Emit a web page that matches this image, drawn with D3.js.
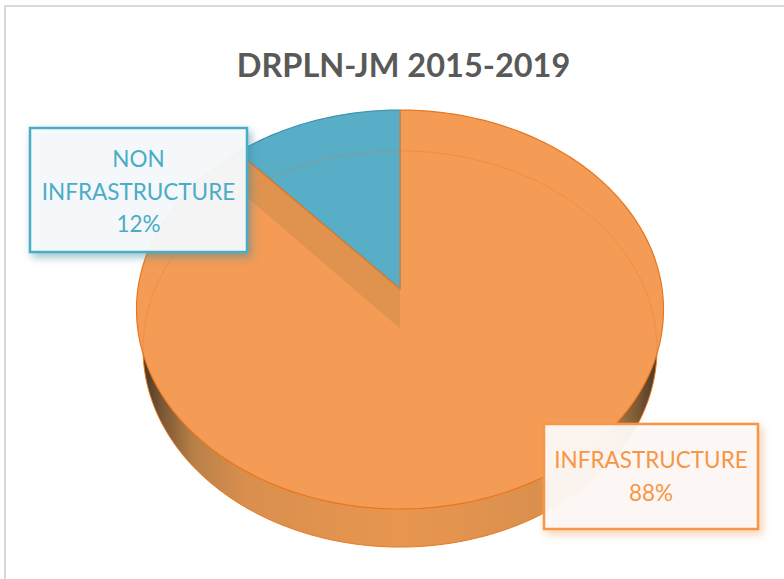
<!DOCTYPE html>
<html>
<head>
<meta charset="utf-8">
<title>DRPLN-JM 2015-2019</title>
<script src="https://cdnjs.cloudflare.com/ajax/libs/d3/7.8.5/d3.min.js"></script>
<style>
    html, body { margin: 0; padding: 0; background: #fff; }
    svg { display: block; }
</style>
</head>
<body>
<div id="chart"></div>
<script>
// data
var chartTitle = "DRPLN-JM 2015-2019";
var categories = ["INFRASTRUCTURE", "NON INFRASTRUCTURE"];
var shares = [88.4, 11.6];
var percentLabels = ["88%", "12%"];
var sliceColors = ["#f49b55", "#58adc7"];
var labelColors = ["#f79646", "#4bacc6"];

var width = 784, height = 579;

var svg = d3.select("#chart").append("svg")
    .attr("width", width)
    .attr("height", height);

var defs = svg.append("defs");

// side wall shading, dark at both ends
var wall = defs.append("linearGradient")
    .attr("id", "wallFill")
    .attr("gradientUnits", "userSpaceOnUse")
    .attr("x1", 143).attr("x2", 657).attr("y1", 0).attr("y2", 0);
[[0, "#4a3724"], [0.04, "#7d5a36"], [0.1, "#b98147"], [0.2, "#d98f4e"], [0.5, "#e8964f"],
 [0.8, "#d98f4e"], [0.9, "#b98147"], [0.96, "#7d5a36"], [1, "#4a3724"]].forEach(function(s) {
    wall.append("stop").attr("offset", s[0]).attr("stop-color", s[1]);
});

function addShadow(id, color) {
    var f = defs.append("filter").attr("id", id)
        .attr("x", "-10%").attr("y", "-15%").attr("width", "125%").attr("height", "140%");
    f.append("feDropShadow")
        .attr("dx", 3).attr("dy", 4).attr("stdDeviation", 4)
        .attr("flood-color", color).attr("flood-opacity", 0.55);
}
addShadow("shadowOrange", "#f0a56a");
addShadow("shadowBlue", "#3f8ba3");

svg.append("rect")
    .attr("x", 5).attr("y", 6)
    .attr("width", width + 10).attr("height", height + 10)
    .attr("fill", "#fff")
    .attr("stroke", "#d9d9d9")
    .attr("stroke-width", 2);

svg.append("text")
    .attr("x", 403.5).attr("y", 77)
    .attr("text-anchor", "middle")
    .attr("font-family", "Lato, 'Open Sans', sans-serif")
    .attr("font-weight", 700)
    .attr("font-size", 32.5)
    .attr("fill", "#595959")
    .text(chartTitle);

// the pie lies in perspective: far edge is squeezed, centre sits above the ellipse middle
var k = -0.1028;
var topDisc = {x: 400, y: 289, a: 262.1, b: 197.4};
var bottomDisc = {x: 400, y: 328.6, a: 255.6, b: 196};

function project(disc, angle) {
    var u = Math.sin(angle), v = -Math.cos(angle);
    var w = 1 + k * v;
    return [disc.x + disc.a * u / w, disc.y + disc.b * v / w];
}

function rimPoints(disc, a0, a1) {
    var n = Math.ceil(Math.abs(a1 - a0) / 0.02);
    return d3.range(n + 1).map(function(i) {
        return project(disc, a0 + (a1 - a0) * i / n);
    });
}

var line = d3.line();
var color = d3.scaleOrdinal().domain(categories).range(sliceColors);

var pie = d3.pie().sort(null);
var slices = pie(shares);
var orange = slices[0], blue = slices[1];

// side wall
svg.append("path")
    .attr("d", line(rimPoints(bottomDisc, orange.startAngle, orange.endAngle)) + "Z")
    .attr("fill", "url(#wallFill)")
    .attr("stroke", "#e8791f")
    .attr("stroke-width", 1);

// top faces
svg.selectAll(".slice")
    .data(slices)
    .enter().append("path")
    .attr("class", "slice")
    .attr("d", function(d) {
        var pts = [[topDisc.x, topDisc.y]].concat(rimPoints(topDisc, d.startAngle, d.endAngle));
        return line(pts) + "Z";
    })
    .attr("fill", function(d, i) { return color(categories[i]); })
    .attr("stroke", function(d, i) { return i === 0 ? "#e8761c" : "#3f93ad"; })
    .attr("stroke-width", 1.2)
    .attr("stroke-linejoin", "round");

// cut face below the blue slice
var cutTop = project(topDisc, orange.endAngle);
var cutBottom = project(bottomDisc, orange.endAngle);
svg.append("path")
    .attr("d", line([[topDisc.x, topDisc.y], [bottomDisc.x, bottomDisc.y], cutBottom, cutTop]) + "Z")
    .attr("fill", "#e0934f");

// edge lines redrawn over the cut face
svg.append("path")
    .attr("d", line([[topDisc.x, topDisc.y], cutTop]))
    .attr("fill", "none")
    .attr("stroke", "#e8761c")
    .attr("stroke-width", 1.2);
svg.append("path")
    .attr("d", line([[topDisc.x, topDisc.y], project(topDisc, 0)]))
    .attr("fill", "none")
    .attr("stroke", "#ec8333")
    .attr("stroke-width", 1);

// far rim of the base shows faintly through the top face
svg.append("path")
    .attr("d", line(rimPoints(bottomDisc, -Math.PI * 0.54, Math.PI * 0.54)))
    .attr("fill", "none")
    .attr("stroke", "#e8791f")
    .attr("stroke-opacity", 0.35)
    .attr("stroke-width", 1);

// callout labels
var labelBoxes = [
    {x: 544, y: 424, w: 214, h: 105, fill: "rgba(253,250,247,0.93)", shadow: "shadowOrange", lines: [categories[0], percentLabels[0]], first: 468},
    {x: 30, y: 128, w: 217, h: 124, fill: "rgba(247,251,252,0.93)", shadow: "shadowBlue", lines: ["NON", "INFRASTRUCTURE", percentLabels[1]], first: 167}
];

labelBoxes.forEach(function(b, i) {
    var g = svg.append("g");
    g.append("rect")
        .attr("x", b.x).attr("y", b.y)
        .attr("width", b.w).attr("height", b.h)
        .attr("fill", b.fill)
        .attr("stroke", labelColors[i])
        .attr("stroke-width", 2.5)
        .attr("filter", "url(#" + b.shadow + ")");
    g.selectAll("text")
        .data(b.lines)
        .enter().append("text")
        .attr("x", b.x + b.w / 2)
        .attr("y", function(d, j) { return b.first + j * 32.6; })
        .attr("text-anchor", "middle")
        .attr("font-family", "Lato, 'Open Sans', sans-serif")
        .attr("font-size", 22.5)
        .attr("fill", labelColors[i])
        .text(function(d) { return d; });
});
</script>
</body>
</html>
